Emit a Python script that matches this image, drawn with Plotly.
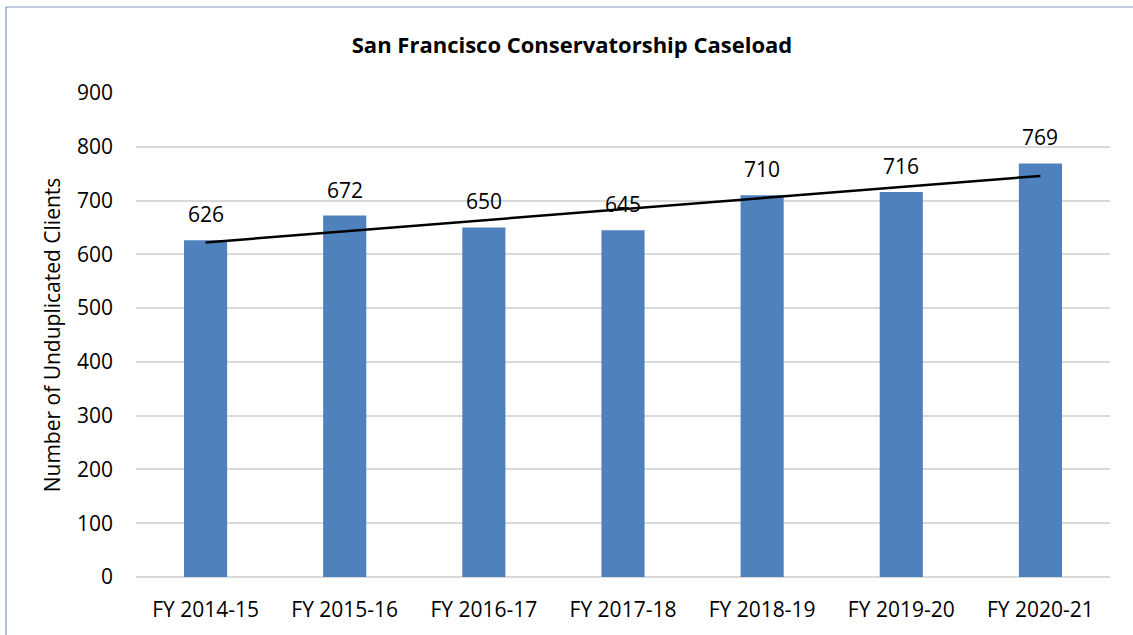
import numpy as np
import plotly.graph_objects as go

categories = ["FY 2014-15", "FY 2015-16", "FY 2016-17", "FY 2017-18",
              "FY 2018-19", "FY 2019-20", "FY 2020-21"]
clients = [626, 672, 650, 645, 710, 716, 769]
y_ticks = [0, 100, 200, 300, 400, 500, 600, 700, 800, 900]

W, H = 1133, 635
ml, mr, mt, mb = 136, 23, 93, 58
pw = W - ml - mr
ph = H - mt - mb

FONT = "Open Sans"

# linear trendline from the data
idx = np.arange(len(clients))
slope, intercept = np.polyfit(idx, clients, 1)
trend = slope * idx + intercept

fig = go.Figure()
fig.add_trace(go.Bar(
    x=categories, y=clients, marker=dict(color="#4F81BD", line=dict(width=0)),
    width=0.31, hoverinfo="x+y", showlegend=False,
))
fig.add_trace(go.Scatter(
    x=[categories[0], categories[-1]], y=[trend[0], trend[-1]],
    mode="lines", line=dict(color="black", width=2.5), showlegend=False,
))

for c, v in zip(categories, clients):
    fig.add_annotation(x=c, y=v, text=str(v), showarrow=False,
                       yanchor="bottom", yshift=10,
                       font=dict(family=FONT, size=21, color="black"))

# outer chart border (bluish grey)
fig.add_shape(type="rect", xref="paper", yref="paper",
              x0=(6 - ml) / pw, x1=(W + 20 - ml) / pw,
              y0=-(H + 20 - mt - ph) / ph, y1=1 + (mt - 7) / ph,
              line=dict(color="#7F97BA", width=1.2), fillcolor="rgba(0,0,0,0)",
              layer="below")

fig.update_layout(
    width=W, height=H,
    margin=dict(l=ml, r=mr, t=mt, b=mb),
    paper_bgcolor="white", plot_bgcolor="white",
    title=dict(text="<b>San Francisco Conservatorship Caseload</b>",
               x=572 / W, xanchor="center", y=1 - 45 / H, yanchor="middle",
               font=dict(family=FONT, size=22, color="black")),
    font=dict(family=FONT, size=21, color="black"),
)
fig.update_xaxes(showgrid=False, showline=False, ticks="", zeroline=False,
                 ticklabelstandoff=18,
                 tickfont=dict(family=FONT, size=21, color="black"))
fig.update_yaxes(range=[0, 900], tickvals=y_ticks, showgrid=True,
                 gridcolor="#D9D9D9", gridwidth=1.5, zeroline=True,
                 zerolinecolor="#D9D9D9", zerolinewidth=1.5, showline=False,
                 ticks="", ticklabelstandoff=22,
                 tickfont=dict(family=FONT, size=21, color="black"),
                 title=dict(text="Number of Unduplicated Clients", standoff=10,
                            font=dict(family=FONT, size=21, color="black")))

fig.write_html("out.html", config={"displayModeBar": False},
               post_script="document.body.style.margin='0';document.body.style.overflow='hidden';")
